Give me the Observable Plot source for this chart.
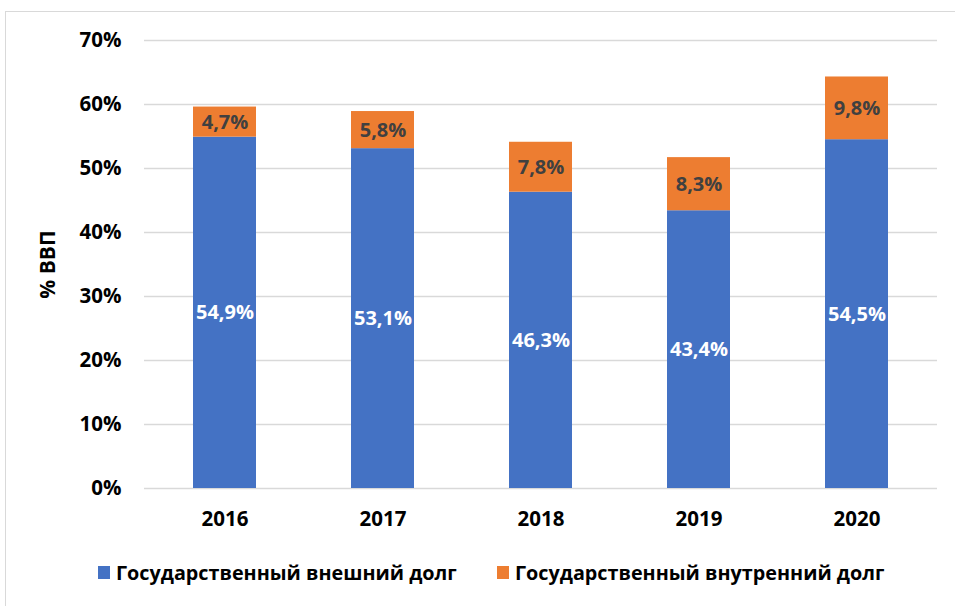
<!DOCTYPE html>
<html>
<head>
<meta charset="utf-8">
<script src="https://cdn.jsdelivr.net/npm/d3@7"></script>
<script src="https://cdn.jsdelivr.net/npm/@observablehq/plot@0.6"></script>
<style>
  html, body { margin: 0; padding: 0; background: #fff; }
  #wrap { position: relative; width: 955px; height: 606px; overflow: hidden; font-family: "Open Sans", sans-serif; }
  #frame { position: absolute; left: 5px; top: 11px; width: 980px; height: 640px; border: 1.5px solid #d9d9d9; box-sizing: border-box; }
  #chart { position: absolute; left: 0; top: 0; }
  .legend-item { position: absolute; top: 559px; display: flex; align-items: center; font-weight: 700; font-size: 19.8px; color: #000; white-space: nowrap; }
  .sw { width: 12px; height: 13px; margin-right: 6px; }
</style>
</head>
<body>
<div id="wrap">
  <div id="frame"></div>
  <div id="chart"></div>
  <div class="legend-item" style="left:98px"><span class="sw" style="background:#4472C4"></span><span id="l1"></span></div>
  <div class="legend-item" style="left:497px"><span class="sw" style="background:#ED7D31"></span><span id="l2"></span></div>
</div>
<script>
const years = ["2016", "2017", "2018", "2019", "2020"];
const seriesNames = ["Государственный внешний долг", "Государственный внутренний долг"];
const externalDebt = [54.9, 53.1, 46.3, 43.4, 54.5];
const domesticDebt = [4.7, 5.8, 7.8, 8.3, 9.8];
const yTicks = [0, 10, 20, 30, 40, 50, 60, 70];
const yTitle = "% ВВП";
const colors = ["#4472C4", "#ED7D31"];
const labelColors = ["#ffffff", "#404040"];

document.getElementById("l1").textContent = seriesNames[0];
document.getElementById("l2").textContent = seriesNames[1];

const data = [];
years.forEach((yr, i) => {
  data.push({year: yr, series: seriesNames[0], value: externalDebt[i]});
  data.push({year: yr, series: seriesNames[1], value: domesticDebt[i]});
});
const fmt = v => v.toFixed(1).replace(".", ",") + "%";

const chart = Plot.plot({
  width: 955,
  height: 540,
  marginTop: 40,
  marginBottom: 52,
  marginLeft: 144,
  marginRight: 18,
  style: {fontFamily: "Open Sans, sans-serif", background: "transparent"},
  x: {domain: years, paddingInner: 0.6, paddingOuter: 0.3, axis: null},
  y: {domain: [0, 70], axis: null},
  color: {domain: seriesNames, range: colors},
  marks: [
    Plot.gridY(yTicks, {stroke: "#d9d9d9", strokeOpacity: 1, strokeWidth: 1.3}),
    Plot.barY(data, {x: "year", y: "value", fill: "series"}),
    Plot.text(data, Plot.stackY({x: "year", y: "value", text: d => fmt(d.value),
      fill: d => labelColors[seriesNames.indexOf(d.series)], fontWeight: 700, fontSize: 20})),
    Plot.axisY(yTicks, {tickSize: 0, tickPadding: 23, tickFormat: d => d + "%", fontSize: 20.5, fontWeight: 700, fill: "#000", label: null}),
    Plot.text([yTitle], {frameAnchor: "left", textAnchor: "middle", lineAnchor: "middle", dx: -96, rotate: -90, text: d => d, fontSize: 21, fontWeight: 700, fill: "#000"}),
    Plot.text(years, {x: d => d, y: 0, dy: 31, text: d => d, fontSize: 20.5, fontWeight: 700, fill: "#000"})
  ]
});
document.getElementById("chart").appendChild(chart);
</script>
</body>
</html>
